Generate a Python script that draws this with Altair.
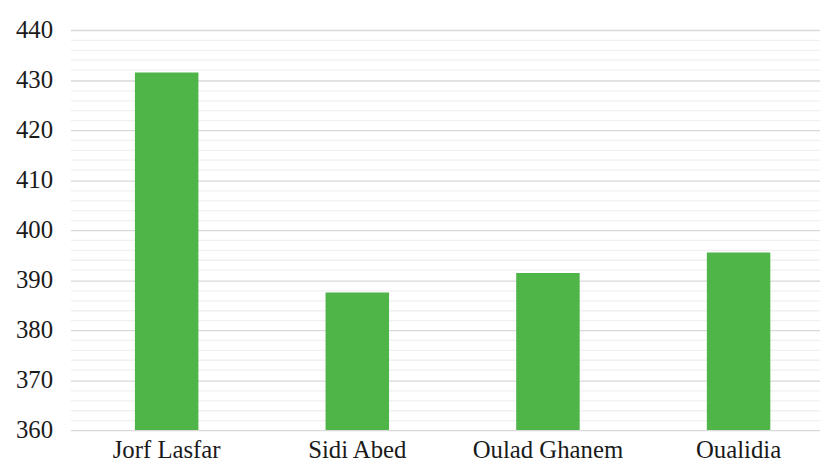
import altair as alt
import pandas as pd

sites = ["Jorf Lasfar", "Sidi Abed", "Oulad Ghanem", "Oualidia"]
values = [431.5, 387.5, 391.4, 395.5]

df = pd.DataFrame({"site": sites, "value": values})

chart = alt.Chart(df).mark_bar(color="#4fb548", clip=True).encode(
    x=alt.X("site:N", sort=sites, title=None,
            scale=alt.Scale(paddingInner=0.667, paddingOuter=0.2995, align=0.565),
            axis=alt.Axis(labelAngle=0, labelFont="Liberation Serif", labelFontSize=25,
                          labelColor="#1a1a1a", ticks=False, domain=False, labelPadding=8)),
    y=alt.Y("value:Q", title=None,
            scale=alt.Scale(domain=[360, 440], nice=False, zero=False),
            axis=alt.Axis(values=list(range(360, 441, 2)),
                          labelExpr="datum.value % 10 == 0 ? datum.label : ''",
                          labelFont="Liberation Serif", labelFontSize=25, labelColor="#1a1a1a",
                          ticks=False, domain=False, labelPadding=18,
                          gridColor={"condition": {"test": "datum.value % 10 == 0", "value": "#d9d9d9"}, "value": "#f0f0f0"},
                          gridWidth=1.3)),
).properties(
    width=757, height=404,
    autosize=alt.AutoSizeParams(type="none"),
    padding={"left": 63, "top": 20, "right": 0, "bottom": 28},
).configure_view(stroke=None)

chart.save("out.html", embed_options={"renderer": "svg", "actions": False})
